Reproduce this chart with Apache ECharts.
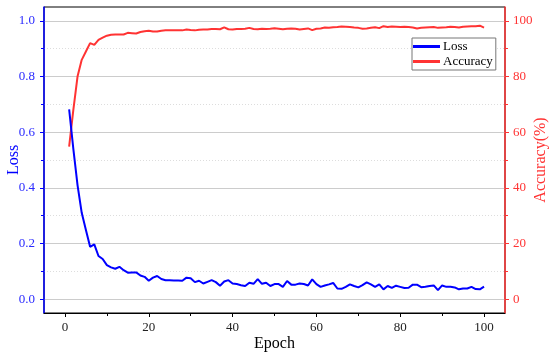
<!DOCTYPE html>
<html>
<head>
<meta charset="utf-8">
<script src="https://cdn.jsdelivr.net/npm/echarts@6/dist/echarts.min.js"></script>
<style>html,body{margin:0;padding:0;background:#fff;}#c{width:550px;height:357px;}</style>
</head>
<body>
<div id="c"></div>
<script>
const epochs = Array.from({length: 100}, (_, i) => i + 1);
const lossValues = [0.682,0.54,0.41,0.31,0.248,0.188,0.197,0.155,0.144,0.122,
0.114,0.109,0.116,0.104,0.095,0.096,0.096,0.085,0.080,0.066,
0.077,0.083,0.072,0.068,0.068,0.067,0.067,0.066,0.077,0.075,
0.061,0.066,0.056,0.062,0.068,0.061,0.048,0.063,0.068,0.056,
0.054,0.050,0.047,0.059,0.055,0.072,0.055,0.059,0.047,0.054,
0.054,0.044,0.065,0.052,0.052,0.056,0.054,0.049,0.071,0.054,
0.044,0.049,0.053,0.058,0.038,0.037,0.044,0.053,0.047,0.042,
0.050,0.060,0.053,0.044,0.053,0.035,0.047,0.040,0.048,0.044,
0.040,0.041,0.052,0.052,0.043,0.044,0.047,0.049,0.032,0.049,
0.044,0.044,0.042,0.035,0.038,0.038,0.044,0.036,0.035,0.045];
const accuracyValues = [54.8,68,80,86,89,92,91.4,93.2,94,94.7,
95,95.1,95.1,95.1,95.7,95.6,95.5,96,96.3,96.5,
96.2,96.2,96.5,96.6,96.6,96.6,96.6,96.6,96.9,96.7,
96.6,96.8,96.9,96.9,97.1,97.1,97.0,97.7,97.0,96.9,
97.1,97.1,97.2,97.5,97.1,97.0,97.2,97.1,97.2,97.4,
97.2,97.0,97.2,97.3,97.2,96.9,97.1,97.3,96.7,97.2,
97.3,97.6,97.5,97.7,97.8,98.0,97.9,97.8,97.6,97.5,
97.2,97.3,97.5,97.7,97.4,98.1,97.8,98.0,97.9,97.8,
97.9,97.8,97.6,97.3,97.5,97.6,97.7,97.8,97.5,97.6,
97.7,97.9,97.8,97.6,97.9,98.0,98.1,98.1,98.3,97.6];
const xMajorTicks = [0,20,40,60,80,100];
const xMinorTicks = [10,30,50,70,90];
const lossMajorTicks = [0,0.2,0.4,0.6,0.8,1.0];
const lossMinorTicks = [0.1,0.3,0.5,0.7,0.9];
const accMajorTicks = [0,20,40,60,80,100];
const accMinorTicks = [10,30,50,70,90];

const font = 'Liberation Serif';
const chart = echarts.init(document.getElementById('c'), null, {renderer: 'canvas'});
chart.setOption({
  animation: false,
  backgroundColor: '#fff',
  textStyle: {fontFamily: font},
  grid: {left: 44, right: 45, top: 7, bottom: 44, outerBoundsMode: 'none', containLabel: false,
    show: true, borderColor: '#000', borderWidth: 1, backgroundColor: 'transparent'},
  legend: {
    orient: 'vertical', left: 412, top: 38,
    backgroundColor: '#fff', borderColor: '#777', borderWidth: 1, borderRadius: 0,
    padding: [2, 3, 2, 1], itemGap: 2, itemWidth: 27, itemHeight: 3,
    icon: 'rect',
    textStyle: {fontFamily: font, fontSize: 13, color: '#000', padding: [0, 0, 0, -2]},
    data: ['Loss', 'Accuracy']
  },
  xAxis: [
    {type: 'value', min: -5, max: 105, position: 'bottom',
      name: 'Epoch', nameLocation: 'middle', nameGap: 23, nameMoveOverlap: false,
      nameTextStyle: {fontFamily: font, fontSize: 16, color: '#000'},
      axisLine: {show: true, onZero: false, lineStyle: {color: '#000', width: 1}},
      axisTick: {show: true, customValues: xMajorTicks, length: 4, lineStyle: {color: '#000'}},
      axisLabel: {customValues: xMajorTicks, fontFamily: font, fontSize: 13, color: '#222', margin: 8},
      splitLine: {show: false}},
    {type: 'value', min: -5, max: 105, position: 'bottom',
      axisLine: {show: false, onZero: false},
      axisTick: {show: true, customValues: xMinorTicks, length: 3, lineStyle: {color: '#000'}},
      axisLabel: {show: false}, splitLine: {show: false}}
  ],
  yAxis: [
    {type: 'value', min: -0.05, max: 1.05, position: 'left',
      name: 'Loss', nameLocation: 'middle', nameGap: 22, nameRotate: 90, nameMoveOverlap: false,
      nameTextStyle: {fontFamily: font, fontSize: 16, color: '#0000ff'},
      axisLine: {show: true, onZero: false, lineStyle: {color: '#0000ff', width: 1.5}},
      axisTick: {show: true, customValues: lossMajorTicks, length: 4, lineStyle: {color: '#0000ff'}},
      axisLabel: {customValues: lossMajorTicks, fontFamily: font, fontSize: 13, color: '#2a2aff', margin: 9,
        formatter: v => v.toFixed(1)},
      splitLine: {show: true, lineStyle: {color: '#cccccc', width: 1}}},
    {type: 'value', min: -5, max: 105, position: 'right',
      name: 'Accuracy(%)', nameLocation: 'middle', nameGap: 28, nameRotate: 90, nameMoveOverlap: false,
      nameTextStyle: {fontFamily: font, fontSize: 16, color: '#ff3333'},
      axisLine: {show: true, onZero: false, lineStyle: {color: '#ff3333', width: 1.5}},
      axisTick: {show: true, customValues: accMajorTicks, length: 4, lineStyle: {color: '#ff3333'}},
      axisLabel: {customValues: accMajorTicks, fontFamily: font, fontSize: 13, color: '#ff3333', margin: 8},
      splitLine: {show: false}},
    {type: 'value', min: -0.05, max: 1.05, position: 'left',
      axisLine: {show: false, onZero: false},
      axisTick: {show: true, customValues: lossMinorTicks, length: 3, lineStyle: {color: '#0000ff'}},
      axisLabel: {show: false},
      splitLine: {show: true, lineStyle: {color: '#dddddd', width: 1, type: [1, 2]}}},
    {type: 'value', min: -5, max: 105, position: 'right',
      axisLine: {show: false, onZero: false},
      axisTick: {show: true, customValues: accMinorTicks, length: 3, lineStyle: {color: '#ff3333'}},
      axisLabel: {show: false}, splitLine: {show: false}}
  ],
  series: [
    {name: 'Loss', type: 'line', xAxisIndex: 0, yAxisIndex: 0, showSymbol: false, symbol: 'none',
      lineStyle: {color: '#0000ff', width: 2}, itemStyle: {color: '#0000ff'},
      data: epochs.map((e, i) => [e, lossValues[i]]), z: 3},
    {name: 'Accuracy', type: 'line', xAxisIndex: 0, yAxisIndex: 1, showSymbol: false, symbol: 'none',
      lineStyle: {color: '#ff3333', width: 2}, itemStyle: {color: '#ff3333'},
      data: epochs.map((e, i) => [e, accuracyValues[i]]), z: 2}
  ]
});
</script>
</body>
</html>
